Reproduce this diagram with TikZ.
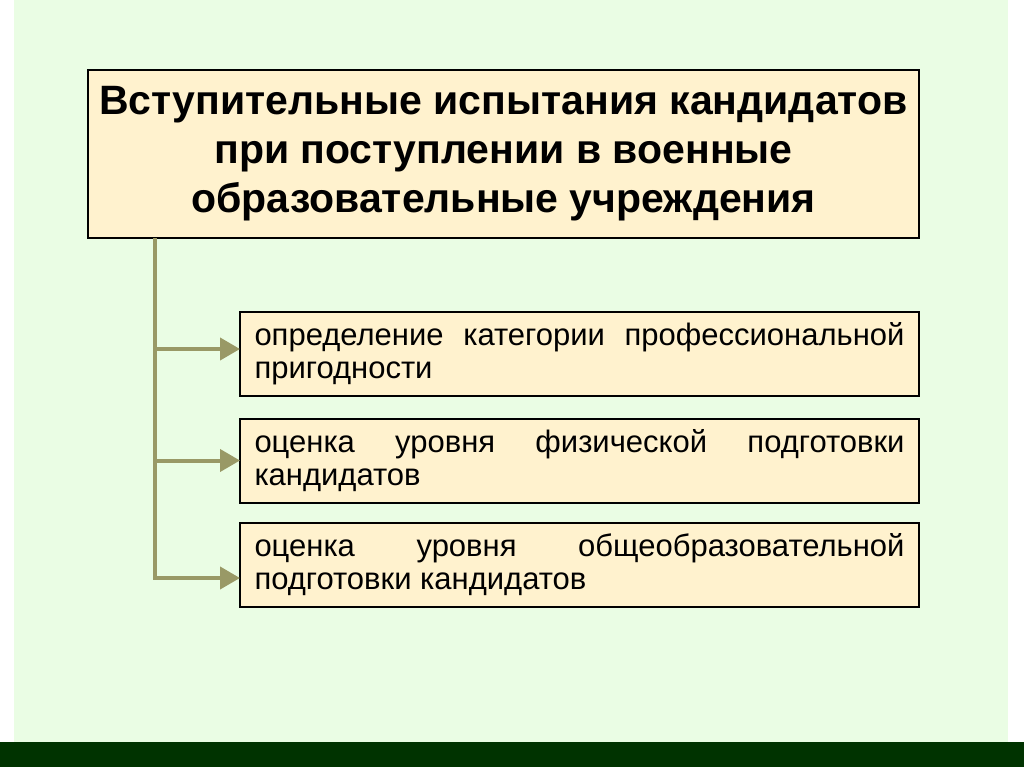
\documentclass[tikz,border=0pt]{standalone}
\usepackage{fontspec}
\setmainfont{Liberation Sans}
\usetikzlibrary{arrows.meta}
\definecolor{pagegreen}{RGB}{234,253,228}
\definecolor{bargreen}{RGB}{0,51,0}
\definecolor{boxfill}{RGB}{255,242,206}
\definecolor{linkolive}{RGB}{153,153,102}
\begin{document}
\begin{tikzpicture}[x=1pt,y=-1pt,
	box/.style={draw=black,line width=2pt,fill=boxfill,inner sep=0,outer sep=0},
	item/.style={box,text width=650pt,minimum width=679pt,minimum height=84pt,align=justify,font=\fontsize{31}{33}\selectfont},
	link/.style={draw=linkolive,line width=4pt,-{Triangle[length=20pt,width=22pt]}}]
	\useasboundingbox (0,0) rectangle (1024,767);
	\fill[white] (0,0) rectangle (1024,767);
	\fill[pagegreen] (14,0) rectangle (1008,742);
	\fill[bargreen] (0,742) rectangle (1024,767);
	\node[box,line width=2.5pt,minimum width=831pt,minimum height=168pt,align=center,font=\bfseries\fontsize{41}{49}\selectfont] (title) at (503.5,154) {Вступительные испытания кандидатов\\при поступлении в военные\\образовательные учреждения};
	\node[item] (b1) at (579.5,354) {определение категории профессиональной пригодности};
	\node[item] (b2) at (579.5,460.5) {оценка уровня физической подготовки кандидатов};
	\node[item] (b3) at (579.5,565) {оценка уровня общеобразовательной подготовки кандидатов};
	\coordinate (spine) at ([xshift=67pt]title.south west);
	\draw[link] (spine) |- ([yshift=5pt]b1.west);
	\draw[link] (spine) |- (b2.west);
	\draw[link] (spine) |- ([yshift=-13pt]b3.west);
\end{tikzpicture}
\end{document}
